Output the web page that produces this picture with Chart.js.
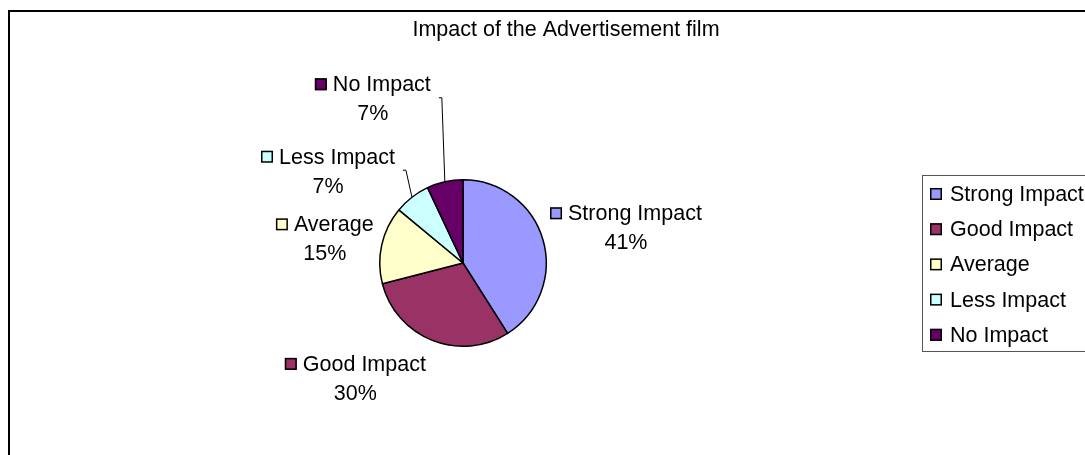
<!DOCTYPE html>
<html>
<head>
<meta charset="utf-8">
<title>Impact of the Advertisement film</title>
<script src="https://cdn.jsdelivr.net/npm/chart.js@4.4.0/dist/chart.umd.min.js"></script>
<style>
  html, body { margin: 0; padding: 0; background: #fff; }
  canvas { display: block; }
</style>
</head>
<body>
<canvas id="myChart" width="1085" height="455"></canvas>
<script>
const titre = 'Impact of the Advertisement film';
const categories = ['Strong Impact', 'Good Impact', 'Average', 'Less Impact', 'No Impact'];
const pourcentages = [41, 30, 15, 7, 7];
const couleurs = ['#9999FF', '#993366', '#FFFFCC', '#CCFFFF', '#660066'];

// décalage des étiquettes par rapport au bord de chaque part
const decalages = [[83, -12], [-77, 38], [-57, -6], [-84, -26], [-72, -83]];
// parts qui ont un trait de rappel
const avecTrait = [false, false, false, true, true];

const police = '21.5px "Liberation Sans", Arial, sans-serif';

function carre(ctx, x, y, couleur) {
    ctx.fillStyle = couleur;
    ctx.fillRect(x, y, 12, 12);
    ctx.strokeStyle = '#000';
    ctx.lineWidth = 1.5;
    ctx.strokeRect(x + 0.75, y + 0.75, 10.5, 10.5);
}

const decorPlugin = {
    id: 'decor',
    afterDraw(chart) {
        const ctx = chart.ctx;
        ctx.save();

        // cadre du graphique
        ctx.strokeStyle = '#000';
        ctx.lineWidth = 2;
        ctx.strokeRect(9, 11, 1100, 460);

        // titre
        ctx.font = police;
        ctx.fillStyle = '#000';
        ctx.textAlign = 'center';
        ctx.textBaseline = 'middle';
        ctx.fillText(titre, 566, 30);

        // étiquettes des parts
        const meta = chart.getDatasetMeta(0);
        meta.data.forEach((arc, i) => {
            const milieu = (arc.startAngle + arc.endAngle) / 2;
            const bx = arc.x + Math.cos(milieu) * arc.outerRadius;
            const by = arc.y + Math.sin(milieu) * arc.outerRadius;
            const cx = bx + decalages[i][0];
            const cy = by + decalages[i][1];

            const nom = categories[i];
            const largeurNom = ctx.measureText(nom).width;
            const largeur = 12 + 6 + largeurNom;
            const gauche = cx - largeur / 2;
            const y1 = cy - 14.5;
            const y2 = cy + 14.5;

            carre(ctx, gauche, y1 - 6, couleurs[i]);
            ctx.fillStyle = '#000';
            ctx.textAlign = 'left';
            ctx.fillText(nom, gauche + 18, y1 + 1);
            ctx.textAlign = 'center';
            ctx.fillText(pourcentages[i] + '%', cx, y2 + 1);

            if (avecTrait[i]) {
                const dx = gauche + largeur + 8;
                ctx.strokeStyle = '#000';
                ctx.lineWidth = 1;
                ctx.beginPath();
                ctx.moveTo(dx, cy - 1);
                ctx.lineTo(dx + 3, cy - 1);
                ctx.lineTo(bx, by);
                ctx.stroke();
            }
        });

        // légende, centrée verticalement sur le camembert
        ctx.strokeStyle = '#555';
        ctx.lineWidth = 1;
        ctx.strokeRect(922.5, 175.5, 200, 176);
        ctx.textAlign = 'left';
        categories.forEach((nom, i) => {
            const y = 194 + i * 35.2;
            carre(ctx, 930, y - 6, couleurs[i]);
            ctx.fillStyle = '#000';
            ctx.fillText(nom, 950, y + 1);
        });

        ctx.restore();
    }
};

const ctx = document.getElementById('myChart').getContext('2d');
const myChart = new Chart(ctx, {
    type: 'pie',
    data: {
        labels: categories,
        datasets: [{
            data: pourcentages,
            backgroundColor: couleurs,
            borderColor: '#000',
            borderWidth: 1.5
        }]
    },
    options: {
        responsive: false,
        animation: false,
        layout: {
            padding: { left: 379, right: 538, top: 179, bottom: 108 }
        },
        plugins: {
            legend: { display: false },
            title: { display: false },
            tooltip: { enabled: false }
        }
    },
    plugins: [decorPlugin]
});
</script>
</body>
</html>
